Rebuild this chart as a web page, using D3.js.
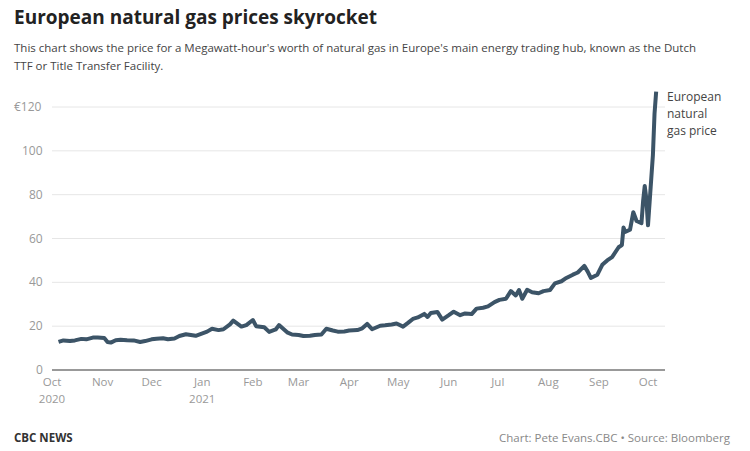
<!DOCTYPE html>
<html><head><meta charset="utf-8">
<script src="https://cdn.jsdelivr.net/npm/d3@7"></script>
<style>body{margin:0;background:#fff;font-family:"Open Sans",sans-serif}</style>
</head><body><svg id="c" width="750" height="451"></svg>
<script>
var dates = ["2020-10-05","2020-10-08","2020-10-12","2020-10-15","2020-10-19","2020-10-22","2020-10-26","2020-10-29","2020-11-02","2020-11-04","2020-11-06","2020-11-09","2020-11-12","2020-11-16","2020-11-20","2020-11-24","2020-11-27","2020-12-01","2020-12-04","2020-12-08","2020-12-11","2020-12-15","2020-12-18","2020-12-22","2020-12-28","2021-01-04","2021-01-07","2021-01-11","2021-01-14","2021-01-18","2021-01-20","2021-01-25","2021-01-28","2021-02-01","2021-02-03","2021-02-08","2021-02-11","2021-02-15","2021-02-17","2021-02-22","2021-02-25","2021-03-01","2021-03-04","2021-03-08","2021-03-11","2021-03-15","2021-03-18","2021-03-22","2021-03-25","2021-03-29","2021-04-01","2021-04-06","2021-04-09","2021-04-12","2021-04-15","2021-04-20","2021-04-23","2021-04-27","2021-04-30","2021-05-04","2021-05-07","2021-05-10","2021-05-13","2021-05-17","2021-05-19","2021-05-21","2021-05-25","2021-05-28","2021-06-01","2021-06-04","2021-06-08","2021-06-11","2021-06-15","2021-06-18","2021-06-22","2021-06-25","2021-06-29","2021-07-02","2021-07-06","2021-07-09","2021-07-12","2021-07-14","2021-07-16","2021-07-19","2021-07-22","2021-07-26","2021-07-29","2021-08-02","2021-08-05","2021-08-09","2021-08-12","2021-08-16","2021-08-19","2021-08-23","2021-08-25","2021-08-27","2021-08-31","2021-09-03","2021-09-06","2021-09-09","2021-09-13","2021-09-15","2021-09-16","2021-09-17","2021-09-20","2021-09-22","2021-09-24","2021-09-27","2021-09-28","2021-09-29","2021-09-30","2021-10-01","2021-10-04","2021-10-05","2021-10-06"];
var prices = [12.8,13.5,13.2,13.5,14.2,14.0,14.8,14.8,14.6,12.8,12.5,13.6,13.8,13.6,13.5,12.8,13.2,14.0,14.3,14.5,14.0,14.4,15.5,16.3,15.6,17.5,18.8,18.2,18.6,20.8,22.5,19.8,20.5,22.8,20.0,19.5,17.4,18.5,20.5,17.2,16.2,16.0,15.5,15.6,16.0,16.2,18.8,18.0,17.5,17.6,18.0,18.2,19.0,21.0,18.6,20.2,20.4,20.8,21.2,19.8,21.5,23.3,24.0,25.6,24.2,26.0,26.5,23.0,25.0,26.6,25.0,25.8,25.5,28.0,28.4,29.0,31.0,32.0,32.5,36.0,34.0,36.5,32.5,36.6,35.5,35.0,36.0,36.5,39.5,40.5,42.0,43.5,44.5,47.5,45.0,42.0,43.5,48.0,50.0,51.5,56.0,57.0,65.0,63.0,64.0,72.0,68.0,67.0,77.0,84.0,78.0,66.0,98.0,117.0,127.0];
var yTicks = [0,20,40,60,80,100,120];
var months = ["Oct","Nov","Dec","Jan","Feb","Mar","Apr","May","Jun","Jul","Aug","Sep","Oct"];

var svg = d3.select("#c");
var parse = d3.timeParse("%Y-%m-%d");
var data = dates.map(function(d,i){ return {date: parse(d), v: prices[i]}; });

var x = d3.scaleTime().domain([new Date(2020,9,1), new Date(2021,9,1)]).range([52,648]);
var y = d3.scaleLinear().domain([0,120]).range([370,107]);

svg.append("text").attr("x",14).attr("y",24).attr("font-size",19).attr("font-weight","bold").attr("fill","#222").text("European natural gas prices skyrocket");
svg.append("text").attr("x",14).attr("y",52).attr("font-size",11.5).attr("fill","#444").text("This chart shows the price for a Megawatt-hour's worth of natural gas in Europe's main energy trading hub, known as the Dutch");
svg.append("text").attr("x",14).attr("y",70).attr("font-size",11.5).attr("fill","#444").text("TTF or Title Transfer Facility.");

var g = svg.append("g");
yTicks.forEach(function(t){
  if (t > 0) g.append("line").attr("x1",52).attr("x2",665).attr("y1",y(t)).attr("y2",y(t)).attr("stroke","#e6e6e6");
  g.append("text").attr("x",t===120?14:(t===100?22:(t===0?36:29))).attr("y",y(t)+4).attr("font-size",12).attr("fill","#999").text(t===120?"€120":t);
});
g.append("line").attr("x1",52).attr("x2",665).attr("y1",y(0)).attr("y2",y(0)).attr("stroke","#777").attr("stroke-width",1.5);

var mt = d3.timeMonth.range(new Date(2020,9,1), new Date(2021,9,2));
mt.forEach(function(d,i){
  g.append("text").attr("x",x(d)).attr("y",386).attr("text-anchor","middle").attr("font-size",11.5).attr("fill","#999").text(months[i]);
});
g.append("text").attr("x",x(new Date(2020,9,1))).attr("y",403).attr("text-anchor","middle").attr("font-size",11.5).attr("fill","#999").text("2020");
g.append("text").attr("x",x(new Date(2021,0,1))).attr("y",403).attr("text-anchor","middle").attr("font-size",11.5).attr("fill","#999").text("2021");

g.append("path").datum(data)
  .attr("d", d3.line().x(function(d){return x(d.date);}).y(function(d){return y(d.v);}))
  .attr("fill","none").attr("stroke","#3c5467").attr("stroke-width",4).attr("stroke-linejoin","round");

["European","natural","gas price"].forEach(function(s,i){
  svg.append("text").attr("x",667).attr("y",101+i*17).attr("font-size",12).attr("fill","#444").text(s);
});

svg.append("text").attr("x",14).attr("y",442).attr("font-size",11.5).attr("font-weight","bold").attr("fill","#333").text("CBC NEWS");
svg.append("text").attr("x",730).attr("y",442).attr("text-anchor","end").attr("font-size",11.5).attr("fill","#888").text("Chart: Pete Evans.CBC • Source: Bloomberg");
</script></body></html>
